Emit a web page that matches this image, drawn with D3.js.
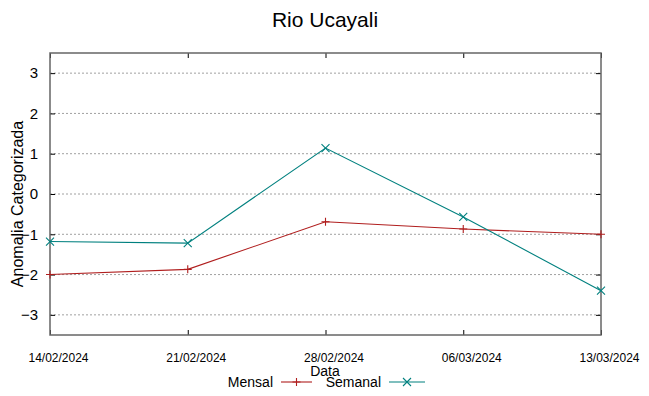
<!DOCTYPE html>
<html><head><meta charset="utf-8">
<script src="https://cdn.jsdelivr.net/npm/d3@7"></script>
<style>body{margin:0;background:#fff}svg{display:block;font-family:"Liberation Sans",Arial,sans-serif}</style>
</head><body><svg id="c" width="649" height="396"></svg>
<script>
const dates = ["14/02/2024","21/02/2024","28/02/2024","06/03/2024","13/03/2024"];
const mensal = [-2.0, -1.87, -0.69, -0.87, -1.0];
const semanal = [-1.18, -1.22, 1.14, -0.57, -2.4];
const yTicks = [-3,-2,-1,0,1,2,3];
const title = "Rio Ucayali";
const xLabel = "Data";
const yLabel = "Anomalia Categorizada";
const seriesNames = ["Mensal","Semanal"];
const colors = ["#b01e1e","#00807f"];

const parse = d3.timeParse("%d/%m/%Y");
const fmt = d3.timeFormat("%d/%m/%Y");
const dts = dates.map(parse);
const svg = d3.select("#c");
const L=50,R=601,T=53,B=335;
const x = d3.scaleTime().domain([dts[0], dts[dts.length-1]]).range([L,R]);
const y = d3.scaleLinear().domain([-3.5,3.5]).range([B,T]);

// grid
svg.append("g").selectAll("line").data(yTicks).join("line")
  .attr("x1",L).attr("x2",R).attr("y1",d=>y(d)).attr("y2",d=>y(d))
  .attr("stroke","#a0a0a0").attr("stroke-width",1).attr("stroke-dasharray","2,2");

// axes with inward ticks
const yl = svg.append("g").attr("transform",`translate(${L},0)`)
  .call(d3.axisLeft(y).tickValues(yTicks).tickSize(-5).tickPadding(12).tickFormat(d3.format("d")));
const yr = svg.append("g").attr("transform",`translate(${R},0)`)
  .call(d3.axisRight(y).tickValues(yTicks).tickSize(-5).tickFormat(""));
const xb = svg.append("g").attr("transform",`translate(0,${B})`)
  .call(d3.axisBottom(x).tickValues(dts).tickSize(-5).tickPadding(18).tickFormat(fmt));
const xt = svg.append("g").attr("transform",`translate(0,${T})`)
  .call(d3.axisTop(x).tickValues(dts).tickSize(-5).tickFormat(""));
[yl,yr,xb,xt].forEach(g=>{g.select(".domain").remove();g.selectAll("line").attr("stroke","#000");});
yl.selectAll("text").attr("font-size",15).attr("fill","#000").attr("font-family","Liberation Sans, Arial, sans-serif");
xb.selectAll("text").attr("font-size",13).attr("fill","#000").attr("font-family","Liberation Sans, Arial, sans-serif")
  .attr("x",8).attr("textLength",60).attr("lengthAdjust","spacingAndGlyphs");

// frame
svg.append("rect").attr("x",L).attr("y",T).attr("width",R-L).attr("height",B-T)
  .attr("fill","none").attr("stroke","#666").attr("stroke-width",1.5);

// lines
const line = d3.line().x((d,i)=>x(dts[i])).y(d=>y(d));
[mensal,semanal].forEach((s,k)=>{
  svg.append("path").datum(s).attr("d",line).attr("fill","none").attr("stroke",colors[k]).attr("stroke-width",1.1);
  svg.append("g").selectAll("path").data(s).join("path")
    .attr("transform",(d,i)=>`translate(${x(dts[i])},${y(d)})`)
    .attr("d", k===0 ? "M-4,0H4M0,-4V4" : "M-4,-4L4,4M-4,4L4,-4")
    .attr("stroke",colors[k]).attr("stroke-width",1.1).attr("fill","none");
});

// title and labels
svg.append("text").attr("x",325).attr("y",27).attr("text-anchor","middle").attr("font-size",21).text(title);
svg.append("text").attr("transform","translate(23,204) rotate(-90)").attr("text-anchor","middle").attr("font-size",16).text(yLabel);
svg.append("text").attr("x",325).attr("y",376).attr("text-anchor","middle").attr("font-size",14).text(xLabel);

// legend
const leg = [{tx:273,lx1:281,lx2:312},{tx:381,lx1:389,lx2:425}];
leg.forEach((p,k)=>{
  svg.append("text").attr("x",p.tx).attr("y",387).attr("text-anchor","end").attr("font-size",14).text(seriesNames[k]);
  svg.append("line").attr("x1",p.lx1).attr("x2",p.lx2).attr("y1",382).attr("y2",382).attr("stroke",colors[k]).attr("stroke-width",1.1);
  svg.append("path").attr("transform",`translate(${(p.lx1+p.lx2)/2},382)`)
    .attr("d", k===0 ? "M-4,0H4M0,-4V4" : "M-4,-4L4,4M-4,4L4,-4")
    .attr("stroke",colors[k]).attr("stroke-width",1.1);
});
</script></body></html>
